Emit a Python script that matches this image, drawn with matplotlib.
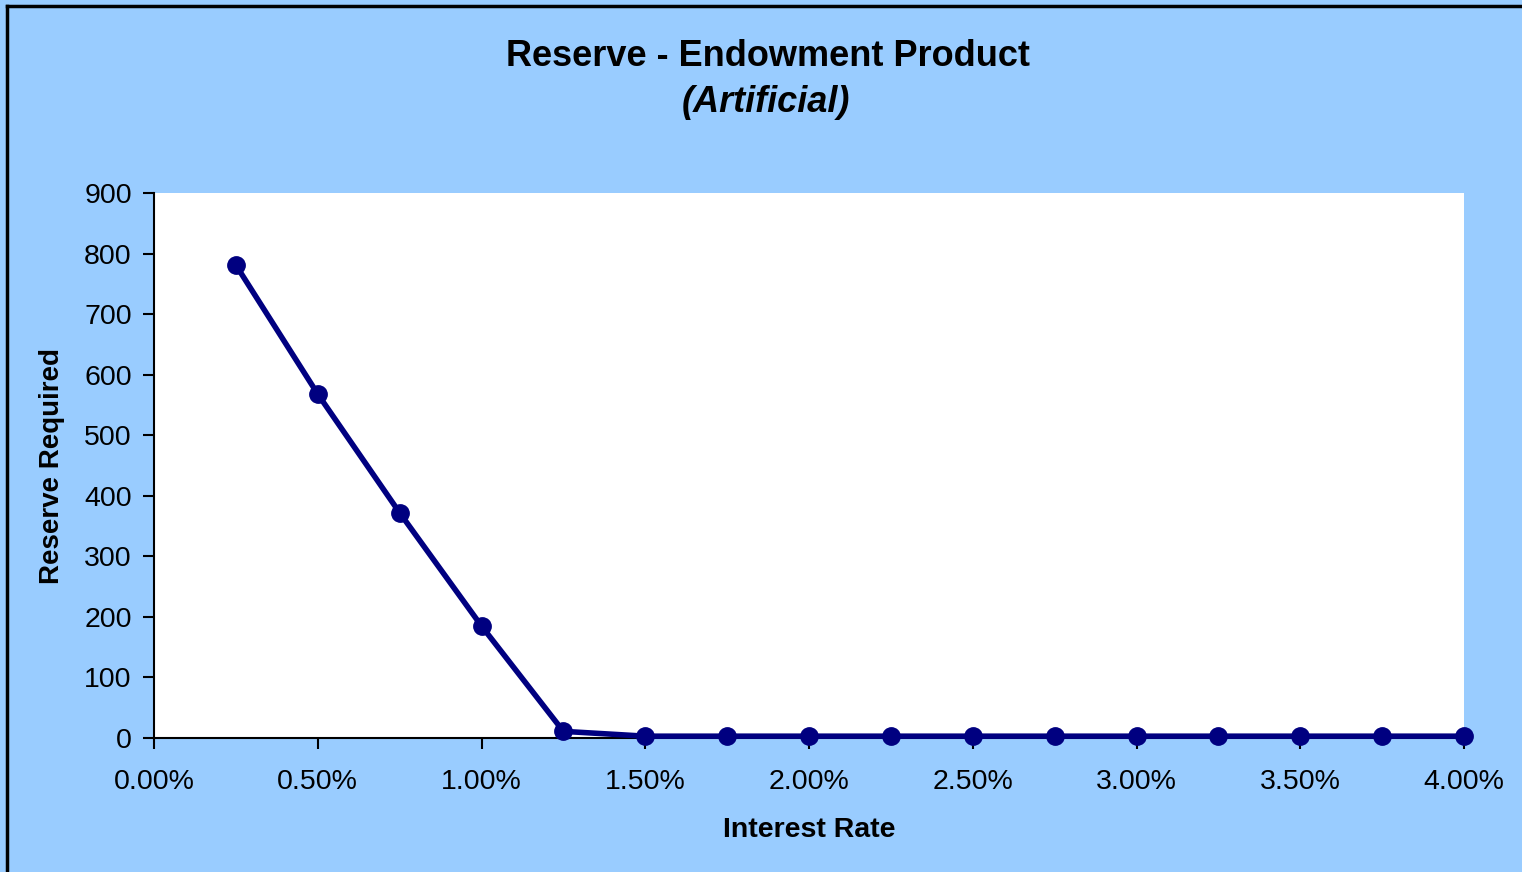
import matplotlib
matplotlib.use("Agg")
import matplotlib.pyplot as plt
from matplotlib.ticker import FuncFormatter

plt.rcParams['font.family'] = ['Liberation Sans', 'DejaVu Sans']

# interest rate in percent and reserve required
rates = [0.25, 0.50, 0.75, 1.00, 1.25, 1.50, 1.75, 2.00, 2.25, 2.50,
         2.75, 3.00, 3.25, 3.50, 3.75, 4.00]
reserve = [781, 568, 372, 185, 11, 3, 3, 3, 3, 3, 3, 3, 3, 3, 3, 3]
xticks = [0.0, 0.5, 1.0, 1.5, 2.0, 2.5, 3.0, 3.5, 4.0]
yticks = [0, 100, 200, 300, 400, 500, 600, 700, 800, 900]

bg = "#99CCFF"
navy = "#000080"

fig = plt.figure(figsize=(15.22, 8.72), dpi=100, facecolor=bg)
ax = fig.add_axes([154/1522, 1 - 738/872, (1464-154)/1522, (738-193)/872])
ax.set_facecolor("white")

ax.plot(rates, reserve, "o-", color=navy, lw=4, ms=12.5, clip_on=False, zorder=3)

ax.set_xlim(0, 4)
ax.set_ylim(0, 900)
ax.set_xticks(xticks)
ax.set_yticks(yticks)
ax.xaxis.set_major_formatter(FuncFormatter(lambda v, p: f"{v:.2f}%"))
ax.tick_params(labelsize=20.5, length=8, width=1.5, direction="out", pad=8)
ax.tick_params(axis="x", pad=14)

for s in ["top", "right"]:
    ax.spines[s].set_visible(False)
for s in ["left", "bottom"]:
    ax.spines[s].set_linewidth(1.5)
    ax.spines[s].set_color("black")

ax.set_xlabel("Interest Rate", fontsize=20.5, fontweight="bold", labelpad=16)
ax.set_ylabel("Reserve Required", fontsize=20, fontweight="bold", labelpad=14)

fig.text(768/1522, 1 - 56/872, "Reserve - Endowment Product", ha="center", va="center",
         fontsize=26, fontweight="bold")
fig.text(766/1522, 1 - 102/872, "(Artificial)", ha="center", va="center",
         fontsize=26, fontweight="bold", style="italic")

# chart area border (left and top edges visible)
fig.add_artist(plt.Line2D([7/1522, 7/1522], [0, 1 - 6/872], transform=fig.transFigure,
                          color="black", lw=2.5))
fig.add_artist(plt.Line2D([7/1522, 1], [1 - 6/872, 1 - 6/872], transform=fig.transFigure,
                          color="black", lw=2.5))

fig.savefig("out.png", dpi=100, facecolor=bg)
